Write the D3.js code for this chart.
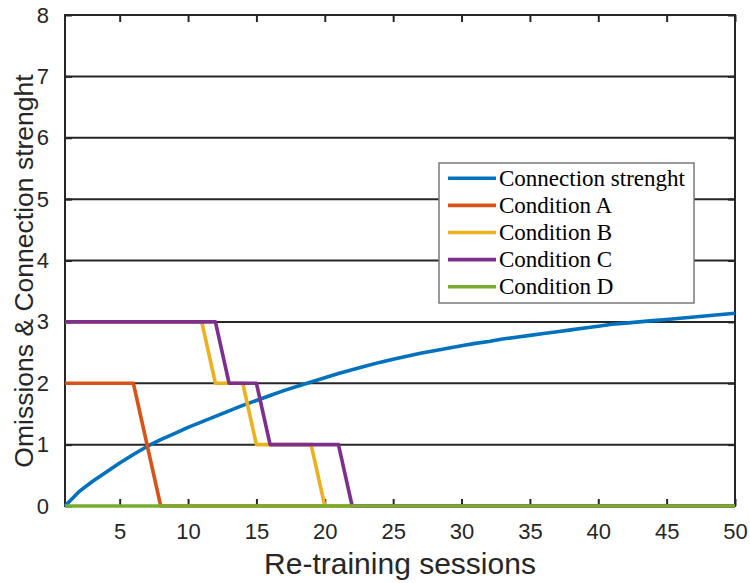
<!DOCTYPE html>
<html>
<head>
<meta charset="utf-8">
<script src="https://cdn.jsdelivr.net/npm/d3@7"></script>
<style>
  html, body { margin: 0; padding: 0; background: #fff; }
  svg { display: block; }
</style>
</head>
<body>
<svg id="chart" width="750" height="583"></svg>
<script>
// ---- data ----
const sessions = d3.range(1, 51);
const connectionStrength = [
  0.00, 0.23, 0.40, 0.55, 0.70, 0.84, 0.97, 1.08, 1.18, 1.28,
  1.37, 1.46, 1.55, 1.64, 1.72, 1.80, 1.88, 1.95, 2.02, 2.09,
  2.16, 2.22, 2.28, 2.34, 2.39, 2.44, 2.49, 2.53, 2.57, 2.61,
  2.65, 2.68, 2.72, 2.75, 2.78, 2.81, 2.84, 2.87, 2.90, 2.93,
  2.96, 2.98, 3.00, 3.02, 3.04, 3.06, 3.08, 3.10, 3.12, 3.14
];
const conditionA = [2,2,2,2,2,2,1,0,0,0, 0,0,0,0,0,0,0,0,0,0, 0,0,0,0,0,0,0,0,0,0, 0,0,0,0,0,0,0,0,0,0, 0,0,0,0,0,0,0,0,0,0];
const conditionB = [3,3,3,3,3,3,3,3,3,3, 3,2,2,2,1,1,1,1,1,0, 0,0,0,0,0,0,0,0,0,0, 0,0,0,0,0,0,0,0,0,0, 0,0,0,0,0,0,0,0,0,0];
const conditionC = [3,3,3,3,3,3,3,3,3,3, 3,3,2,2,2,1,1,1,1,1, 1,0,0,0,0,0,0,0,0,0, 0,0,0,0,0,0,0,0,0,0, 0,0,0,0,0,0,0,0,0,0];
const conditionD = [0,0,0,0,0,0,0,0,0,0, 0,0,0,0,0,0,0,0,0,0, 0,0,0,0,0,0,0,0,0,0, 0,0,0,0,0,0,0,0,0,0, 0,0,0,0,0,0,0,0,0,0];
const seriesNames = ["Connection strenght", "Condition A", "Condition B", "Condition C", "Condition D"];
const seriesColors = ["#0072BD", "#D95319", "#EDB120", "#7E2F8E", "#77AC30"];
const xTicks = [5, 10, 15, 20, 25, 30, 35, 40, 45, 50];
const yTicks = [0, 1, 2, 3, 4, 5, 6, 7, 8];
const xLabel = "Re-training sessions";
const yLabel = "Omissions & Connection strenght";

// ---- layout ----
const L = 65, R = 735, T = 15, B = 506;
const svg = d3.select("#chart");
const x = d3.scaleLinear().domain([1, 50]).range([L, R]);
const y = d3.scaleLinear().domain([0, 8]).range([B, T]);
const axisColor = "#262626";

// grid lines
svg.append("g").selectAll("line").data(yTicks.slice(1, -1)).join("line")
  .attr("x1", L).attr("x2", R)
  .attr("y1", d => y(d)).attr("y2", d => y(d))
  .attr("stroke", axisColor).attr("stroke-width", 2);

// axes
const tickLen = 7;
const gx = svg.append("g").attr("transform", `translate(0,${B})`)
  .call(d3.axisBottom(x).tickValues(xTicks).tickSize(-tickLen).tickPadding(tickLen + 10).tickSizeOuter(0));
const gxTop = svg.append("g").attr("transform", `translate(0,${T})`)
  .call(d3.axisTop(x).tickValues(xTicks).tickSize(-tickLen).tickFormat("").tickSizeOuter(0));
const gy = svg.append("g").attr("transform", `translate(${L},0)`)
  .call(d3.axisLeft(y).tickValues(yTicks).tickSize(-tickLen).tickPadding(tickLen + 9).tickSizeOuter(0));
const gyR = svg.append("g").attr("transform", `translate(${R},0)`)
  .call(d3.axisRight(y).tickValues(yTicks).tickSize(-tickLen).tickFormat("").tickSizeOuter(0));

[gx, gxTop, gy, gyR].forEach(g => {
  g.select(".domain").remove();
  g.selectAll(".tick line").attr("stroke", axisColor).attr("stroke-width", 2);
  g.selectAll("text").attr("fill", axisColor)
    .style("font-family", "'Liberation Sans', Arial, sans-serif").style("font-size", "22px");
});

// box
svg.append("rect").attr("x", L).attr("y", T).attr("width", R - L).attr("height", B - T)
  .attr("fill", "none").attr("stroke", axisColor).attr("stroke-width", 2);

// axis labels
svg.append("text").attr("x", (L + R) / 2).attr("y", 574).attr("text-anchor", "middle")
  .attr("fill", axisColor)
  .style("font-family", "'Liberation Sans', Arial, sans-serif").style("font-size", "30px")
  .text(xLabel);
svg.append("text").attr("transform", `translate(33,${271}) rotate(-90)`).attr("text-anchor", "middle")
  .attr("fill", axisColor)
  .style("font-family", "'Liberation Sans', Arial, sans-serif").style("font-size", "26.5px")
  .text(yLabel);

// lines
const allSeries = [connectionStrength, conditionA, conditionB, conditionC, conditionD];
const line = d3.line().x((d, i) => x(sessions[i])).y(d => y(d));
svg.append("g").selectAll("path").data(allSeries).join("path")
  .attr("d", d => line(d))
  .attr("fill", "none")
  .attr("stroke", (d, i) => seriesColors[i])
  .attr("stroke-width", 3.6)
  .attr("stroke-linejoin", "round");

// legend
const lg = svg.append("g");
lg.append("rect").attr("x", 439).attr("y", 163).attr("width", 255).attr("height", 140)
  .attr("fill", "#fff").attr("stroke", "#7a7a7a").attr("stroke-width", 1.5);
const rows = lg.selectAll("g.row").data(seriesNames).join("g").attr("class", "row")
  .attr("transform", (d, i) => `translate(0,${178.3 + i * 27.1})`);
rows.append("line").attr("x1", 448).attr("x2", 496).attr("y1", 0).attr("y2", 0)
  .attr("stroke", (d, i) => seriesColors[i]).attr("stroke-width", 3.6);
rows.append("text").attr("x", 499).attr("y", 7.5).attr("fill", "#000")
  .style("font-family", "'Liberation Serif', 'Times New Roman', serif").style("font-size", "23px")
  .text(d => d);
</script>
</body>
</html>
